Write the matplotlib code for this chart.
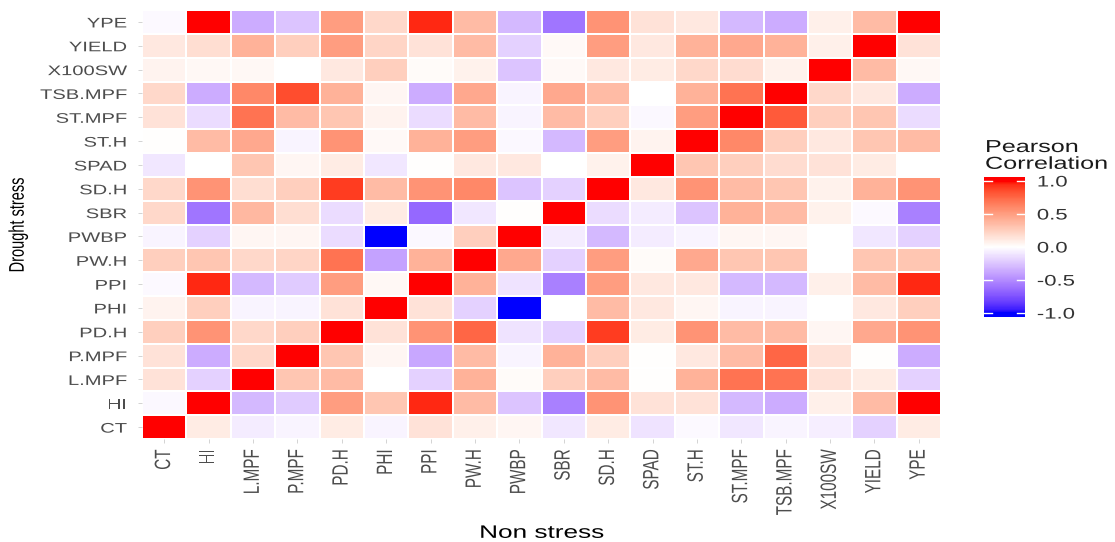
import matplotlib
matplotlib.use("Agg")
import matplotlib.pyplot as plt
import numpy as np
from matplotlib import patheffects
from matplotlib.colors import ListedColormap
from matplotlib.transforms import Affine2D

plt.rcParams["font.family"] = ["Liberation Sans", "DejaVu Sans"]

traits = ["CT", "HI", "L.MPF", "P.MPF", "PD.H", "PHI", "PPI", "PW.H", "PWBP",
          "SBR", "SD.H", "SPAD", "ST.H", "ST.MPF", "TSB.MPF", "X100SW", "YIELD", "YPE"]
legend_ticks = [-1.0, -0.5, 0.0, 0.5, 1.0]

# rows: drought stress traits (CT at bottom), columns: non stress traits
corr_ct = [1.0, 0.1, -0.08, -0.05, 0.1, -0.05, 0.15, 0.08, 0.05, -0.1, 0.1, -0.12, -0.02, -0.1, -0.05, -0.07, -0.2, 0.1]
corr_hi = [-0.03, 1.0, -0.3, -0.22, 0.5, 0.3, 0.95, 0.35, -0.25, -0.55, 0.55, 0.15, 0.15, -0.3, -0.35, 0.08, 0.35, 1.0]
corr_lmpf = [0.15, -0.2, 1.0, 0.3, 0.35, 0.0, -0.2, 0.4, 0.02, 0.25, 0.35, 0.01, 0.4, 0.7, 0.7, 0.15, 0.1, -0.2]
corr_pmpf = [0.15, -0.35, 0.2, 1.0, 0.3, 0.05, -0.38, 0.35, -0.05, 0.4, 0.25, 0.01, 0.12, 0.35, 0.75, 0.15, 0.01, -0.35]
corr_pdh = [0.25, 0.55, 0.2, 0.25, 1.0, 0.15, 0.55, 0.75, -0.12, -0.2, 0.9, 0.1, 0.55, 0.35, 0.35, 0.05, 0.45, 0.55]
corr_phi = [0.06, 0.25, -0.05, -0.05, 0.15, 1.0, 0.15, -0.2, -1.0, 0.0, 0.35, 0.12, 0.05, -0.05, -0.05, 0.0, 0.12, 0.25]
corr_ppi = [-0.02, 0.95, -0.3, -0.22, 0.5, 0.04, 1.0, 0.4, -0.12, -0.55, 0.5, 0.12, 0.12, -0.3, -0.3, 0.08, 0.35, 0.95]
corr_pwh = [0.25, 0.3, 0.2, 0.22, 0.7, -0.4, 0.4, 1.0, 0.45, -0.2, 0.5, 0.02, 0.45, 0.3, 0.3, 0.0, 0.3, 0.3]
corr_pwbp = [-0.05, -0.2, 0.05, 0.05, -0.15, -1.0, -0.03, 0.25, 1.0, -0.08, -0.3, -0.08, -0.05, 0.05, 0.05, 0.0, -0.1, -0.2]
corr_sbr = [0.2, -0.6, 0.37, 0.17, -0.15, 0.1, -0.65, -0.1, 0.01, 1.0, -0.15, -0.08, -0.25, 0.4, 0.35, 0.07, -0.02, -0.55]
corr_sdh = [0.2, 0.55, 0.17, 0.25, 0.9, 0.35, 0.55, 0.6, -0.25, -0.2, 1.0, 0.12, 0.55, 0.35, 0.3, 0.07, 0.4, 0.55]
corr_spad = [-0.1, 0.0, 0.3, 0.05, 0.1, -0.1, 0.01, 0.12, 0.12, 0.0, 0.07, 1.0, 0.3, 0.25, 0.18, 0.15, 0.1, 0.0]
corr_sth = [0.01, 0.35, 0.45, -0.05, 0.55, 0.03, 0.4, 0.5, -0.03, -0.3, 0.5, 0.06, 1.0, 0.6, 0.25, 0.12, 0.3, 0.35]
corr_stmpf = [0.15, -0.15, 0.7, 0.35, 0.3, 0.06, -0.15, 0.35, -0.05, 0.35, 0.25, -0.03, 0.5, 1.0, 0.8, 0.25, 0.3, -0.15]
corr_tsbmpf = [0.2, -0.35, 0.6, 0.85, 0.4, 0.05, -0.35, 0.45, -0.05, 0.45, 0.35, 0.0, 0.4, 0.7, 1.0, 0.2, 0.12, -0.35]
corr_x100sw = [0.06, 0.04, 0.04, 0.0, 0.12, 0.25, 0.02, 0.07, -0.25, 0.03, 0.12, 0.1, 0.2, 0.18, 0.07, 1.0, 0.35, 0.04]
corr_yield = [0.12, 0.17, 0.4, 0.25, 0.5, 0.22, 0.15, 0.35, -0.2, 0.03, 0.5, 0.12, 0.4, 0.45, 0.4, 0.08, 1.0, 0.15]
corr_ype = [-0.02, 1.0, -0.35, -0.25, 0.5, 0.2, 0.95, 0.35, -0.3, -0.6, 0.55, 0.15, 0.12, -0.3, -0.35, 0.08, 0.35, 1.0]

corr = np.array([corr_ct, corr_hi, corr_lmpf, corr_pmpf, corr_pdh, corr_phi, corr_ppi,
                 corr_pwh, corr_pwbp, corr_sbr, corr_sdh, corr_spad, corr_sth,
                 corr_stmpf, corr_tsbmpf, corr_x100sw, corr_yield, corr_ype])


def lab_to_rgb(lab):
    L, a, b = lab[:, 0], lab[:, 1], lab[:, 2]
    fy = (L + 16) / 116
    fx = fy + a / 500
    fz = fy - b / 200
    d = 6 / 29

    def finv(t):
        return np.where(t > d, t ** 3, 3 * d ** 2 * (t - 4 / 29))

    xyz = np.stack([0.95047 * finv(fx), finv(fy), 1.08883 * finv(fz)], axis=1)
    m = np.array([[3.2406, -1.5372, -0.4986],
                  [-0.9689, 1.8758, 0.0415],
                  [0.0557, -0.2040, 1.0570]])
    lin = np.clip(xyz @ m.T, 0, 1)
    rgb = np.where(lin <= 0.0031308, 12.92 * lin, 1.055 * lin ** (1 / 2.4) - 0.055)
    return np.clip(rgb, 0, 1)


class StretchX(patheffects.AbstractPathEffect):
    """Widen glyphs horizontally around the text anchor."""

    def __init__(self, text, sx=1.45):
        super().__init__()
        self.text = text
        self.sx = sx

    def draw_path(self, renderer, gc, tpath, affine, rgbFace=None):
        x0 = self.text.get_transform().transform(self.text.get_position())[0]
        stretch = Affine2D().translate(-x0, 0).scale(self.sx, 1).translate(x0, 0)
        renderer.draw_path(gc, tpath, affine + stretch, rgbFace)


def widen(text):
    text.set_path_effects([StretchX(text)])


# blue - white - red ramp interpolated in CIELAB
blue_lab = np.array([32.30, 79.19, -107.86])
white_lab = np.array([100.0, 0.0, 0.0])
red_lab = np.array([53.24, 80.09, 67.20])
t = np.linspace(0, 1, 128)[:, None]
lower = blue_lab + (white_lab - blue_lab) * t
upper = white_lab + (red_lab - white_lab) * t
cmap = ListedColormap(lab_to_rgb(np.vstack([lower, upper[1:]])))

fig = plt.figure(figsize=(11.15, 5.42), dpi=100)
ax = fig.add_axes([0.1274, 0.19, 0.7166, 0.7915])

n = len(traits)
ax.pcolormesh(np.arange(n + 1), np.arange(n + 1), corr, cmap=cmap,
              vmin=-1, vmax=1, edgecolors="white", linewidth=1.3)
ax.set_xlim(0, n)
ax.set_ylim(0, n)
ax.set_xticks(np.arange(n) + 0.5)
ax.set_yticks(np.arange(n) + 0.5)
ax.set_xticklabels(traits, rotation=90, fontsize=11, color="#4D4D4D")
ax.set_yticklabels(traits, fontsize=10, color="#4D4D4D")
ax.tick_params(length=3, width=0.6, color="#CCCCCC")
ax.tick_params(axis="x", pad=4.5)
ax.tick_params(axis="y", pad=7.8)
for spine in ax.spines.values():
    spine.set_visible(False)

ax.set_xlabel("Non stress", fontsize=13)
ax.xaxis.set_label_coords(0.5, -0.2)
ax.set_ylabel("Drought stress", fontsize=10.5)
ax.yaxis.set_label_coords(-0.1427, 0.5)

for lbl in ax.get_xticklabels() + ax.get_yticklabels():
    widen(lbl)
widen(ax.xaxis.label)
widen(ax.yaxis.label)

# legend bar, drawn a little past the +-1 limits
cax = fig.add_axes([0.8825, 0.4151, 0.0368, 0.2583])
bar_edges = np.linspace(-1.06, 1.06, 301)
bar_vals = 0.5 * (bar_edges[:-1] + bar_edges[1:])
cax.pcolormesh([0, 1], bar_edges, bar_vals[:, None], cmap=cmap, vmin=-1, vmax=1)
cax.set_xlim(0, 1)
cax.set_ylim(-1.06, 1.06)
cax.set_xticks([])
cax.yaxis.tick_right()
cax.set_yticks(legend_ticks)
cax.set_yticklabels([f"{v:.1f}" for v in legend_ticks], fontsize=11, color="#333333")
cax.tick_params(length=0, pad=8.5)
for spine in cax.spines.values():
    spine.set_visible(False)
for v in legend_ticks:
    cax.plot([0, 0.2], [v, v], color="white", lw=1)
    cax.plot([0.8, 1.0], [v, v], color="white", lw=1)
for lbl in cax.get_yticklabels():
    widen(lbl)

title = fig.text(0.8834, 0.683, "Pearson\nCorrelation", fontsize=12.5, color="#1A1A1A",
                 va="bottom", ha="left", linespacing=1.15)
widen(title)

fig.savefig("out.png", dpi=100)
